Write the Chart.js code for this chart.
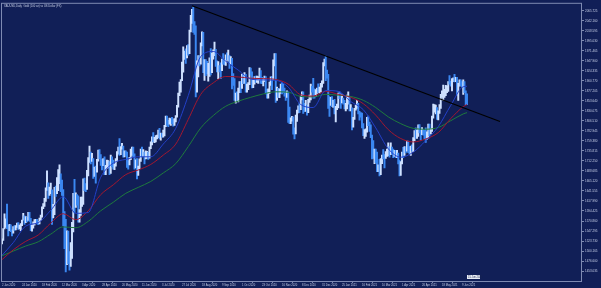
<!DOCTYPE html>
<html>
<head>
<meta charset="utf-8">
<title>XAUUSD Daily</title>
<script src="https://cdn.jsdelivr.net/npm/chart.js@4.4.0/dist/chart.umd.min.js"></script>
<style>
  html, body { margin: 0; padding: 0; background: #111f57; }
  canvas { display: block; }
</style>
</head>
<body>
<canvas id="goldChart" width="601" height="288"></canvas>
<script>
var chartTitle = 'XAUUSD,Daily  Gold (100 oz) vs US Dollar (FX)';

// daily bars, 2 Jan 2020 .. 15 Jun 2021
var highs = [
  1529,1553,1588,1576,1611,1561,1563,1562,1550,1558,1560,1560,1566,1567,1561,1565,1573,1589,1583,1581,1580,1591, // jan 20
  1591,1577,1561,1569,1574,1575,1575,1570,1578,1585,1604,1612,1624,1649,1689,1661,1651,1660,1644, // feb
  1610,1650,1653,1673,1692,1703,1682,1667,1645,1593,1575,1548,1547,1499,1520,1568,1636,1669,1637,1633,1630, // mar
  1598,1627,1627,1670,1672,1659,1690,1720,1747,1733,1730,1718,1698,1700,1716,1738,1739,1727,1716,1718,1722, // apr
  1702,1714,1713,1711,1726,1722,1714,1705,1718,1734,1745,1765,1746,1754,1747,1736,1736,1733,1713,1721,1740, // may
  1745,1745,1729,1715,1718,1700,1717,1740,1745,1739,1733,1736,1735,1733,1745,1757,1769,1779,1768,1772,1773,1785, // jun
  1789,1778,1777,1785,1796,1818,1818,1808,1813,1812,1815,1811,1812,1819,1843,1872,1898,1904,1945,1981,1971,1976,1984, // jul
  1986,2020,2055,2069,2075,2040,2030,1948,1960,1960,1990,2016,2015,1951,1951,1947,1942,1955,1977,1966,1974, // aug
  1992,1975,1948,1946,1937,1943,1952,1965,1951,1962,1967,1973,1960,1958,1954,1918,1906,1872,1875,1884,1899,1899, // sep
  1917,1916,1920,1916,1893,1897,1932,1931,1922,1902,1911,1912,1912,1911,1931,1925,1909,1906,1912,1911,1881,1882, // oct
  1898,1910,1911,1950,1965,1965,1886,1883,1882,1893,1897,1893,1884,1875,1877,1875,1839,1814,1817,1816,1790, // nov
  1820,1832,1842,1848,1865,1875,1875,1848,1855,1844,1857,1867,1893,1888,1907,1882,1880,1884,1894,1886,1895,1901, // dec
  1944,1952,1959,1926,1916,1864,1862,1864,1855,1857,1841,1846,1872,1875,1871,1868,1860,1855,1848,1867, // jan 21
  1875,1864,1845,1837,1815,1836,1844,1855,1848,1829,1826,1825,1800,1786,1788,1815,1818,1804,1797,1773, // feb
  1760,1740,1740,1733,1703,1716,1718,1726,1739,1727,1734,1740,1755,1746,1755,1745,1740,1737,1737,1737,1731,1714,1711, // mar
  1733,1744,1746,1745,1759,1759,1746,1747,1750,1767,1784,1790,1785,1797,1798,1785,1791,1786,1785,1790,1781, // apr
  1799,1799,1788,1818,1846,1845,1844,1838,1830,1845,1869,1877,1891,1881,1890,1889,1899,1913,1900,1906,1908, // may
  1916,1909,1909,1895,1903,1903,1899,1903,1899,1877,1870 // jun
];
var lows = [
  1517,1525,1552,1556,1553,1536,1548,1546,1536,1542,1549,1550,1556,1551,1552,1548,1560,1573,1563,1567,1569,1572,
  1570,1548,1547,1554,1561,1567,1564,1562,1564,1573,1580,1600,1605,1617,1643,1624,1631,1635,1563,
  1578,1586,1629,1635,1642,1659,1640,1631,1560,1506,1451,1468,1470,1455,1464,1483,1545,1590,1603,1608,1568,
  1568,1584,1605,1610,1642,1640,1645,1677,1709,1705,1711,1671,1676,1660,1686,1712,1717,1702,1691,1701,1680,
  1680,1695,1696,1680,1683,1698,1693,1692,1700,1712,1728,1725,1727,1740,1721,1722,1724,1697,1693,1703,1715,
  1725,1721,1693,1696,1670,1678,1694,1711,1722,1723,1705,1717,1718,1716,1719,1741,1750,1757,1755,1757,1764,1767,
  1764,1761,1768,1768,1771,1793,1796,1793,1799,1796,1800,1794,1796,1804,1815,1839,1866,1874,1901,1921,1951,1942,1955,
  1961,1965,2016,2036,2015,2010,1863,1874,1910,1936,1940,1983,1920,1902,1913,1917,1900,1911,1915,1920,1952,
  1960,1935,1922,1906,1922,1906,1925,1940,1938,1937,1950,1947,1930,1939,1882,1890,1855,1848,1855,1851,1873,1873,
  1883,1894,1895,1874,1874,1880,1892,1914,1884,1885,1893,1897,1897,1895,1903,1895,1894,1889,1899,1870,1860,1860,
  1871,1890,1880,1903,1936,1850,1855,1862,1861,1871,1870,1873,1865,1855,1862,1803,1800,1800,1806,1775,1764,
  1776,1805,1825,1826,1833,1856,1824,1828,1829,1820,1826,1850,1856,1874,1860,1860,1864,1871,1873,1872,1875,1886,
  1895,1936,1901,1907,1836,1817,1843,1840,1838,1823,1804,1833,1837,1859,1836,1849,1846,1835,1830,1835,
  1846,1830,1830,1785,1792,1810,1832,1836,1823,1808,1815,1790,1772,1765,1770,1780,1795,1782,1767,1717,
  1718,1706,1708,1687,1687,1677,1680,1706,1717,1696,1718,1723,1724,1721,1727,1728,1720,1723,1720,1720,1705,1677,1678,
  1705,1720,1725,1731,1735,1732,1729,1725,1735,1734,1760,1766,1765,1770,1778,1761,1774,1773,1764,1756,1763,
  1766,1771,1776,1782,1813,1827,1823,1810,1809,1824,1836,1862,1855,1862,1866,1873,1876,1893,1888,1877,1899,
  1898,1899,1867,1855,1888,1889,1886,1869,1873,1845,1845
];
var closes = [
  1528,1552,1566,1574,1556,1552,1562,1548,1545,1557,1552,1557,1560,1558,1558,1563,1571,1582,1567,1577,1575,1589,
  1577,1553,1556,1566,1571,1573,1567,1566,1576,1584,1602,1612,1620,1643,1659,1636,1641,1643,1585,
  1593,1641,1636,1669,1674,1679,1649,1634,1576,1529,1514,1525,1477,1470,1498,1553,1632,1612,1629,1617,1577,
  1591,1614,1620,1663,1648,1645,1683,1713,1726,1716,1718,1683,1695,1686,1714,1730,1726,1713,1706,1713,1687,
  1700,1702,1705,1685,1725,1702,1697,1701,1715,1730,1743,1733,1745,1747,1727,1735,1729,1710,1708,1719,1730,
  1740,1726,1699,1713,1684,1697,1714,1738,1728,1729,1726,1727,1727,1723,1743,1755,1768,1762,1763,1770,1772,1781,
  1769,1775,1773,1783,1794,1810,1802,1798,1802,1810,1808,1796,1810,1817,1842,1871,1889,1901,1941,1958,1970,1958,1975,
  1969,2019,2038,2063,2035,2028,1912,1915,1953,1944,1986,2013,1929,1946,1940,1929,1929,1954,1929,1964,1968,
  1970,1944,1931,1933,1932,1930,1947,1946,1940,1956,1954,1960,1943,1950,1912,1900,1863,1868,1861,1881,1898,1886,
  1906,1900,1913,1877,1887,1894,1930,1922,1891,1901,1908,1899,1905,1907,1924,1904,1902,1902,1908,1878,1868,1879,
  1894,1908,1903,1948,1951,1862,1877,1866,1873,1889,1888,1880,1871,1866,1872,1837,1807,1810,1812,1788,1777,
  1815,1831,1841,1839,1862,1872,1838,1837,1839,1828,1855,1863,1885,1881,1880,1871,1876,1877,1876,1877,1893,1895,
  1943,1950,1918,1913,1849,1844,1856,1846,1851,1828,1839,1840,1871,1866,1856,1856,1850,1843,1843,1848,
  1860,1834,1835,1794,1813,1833,1838,1843,1826,1824,1818,1794,1775,1775,1784,1808,1806,1797,1769,1733,
  1724,1737,1711,1698,1700,1683,1716,1726,1722,1719,1731,1731,1745,1736,1745,1738,1725,1733,1725,1731,1711,1684,1708,
  1729,1728,1744,1737,1756,1744,1733,1744,1736,1764,1777,1771,1779,1794,1783,1777,1780,1778,1773,1769,1769,
  1792,1777,1785,1815,1831,1836,1836,1815,1826,1843,1867,1869,1871,1877,1881,1881,1898,1897,1896,1903,1905,
  1903,1903,1871,1891,1899,1893,1888,1899,1877,1866,1858
];

// time scale labels, one every 16 bars
var timeLabels = ['2 Jan 2020','24 Jan 2020','18 Feb 2020','12 Mar 2020','3 Apr 2020','28 Apr 2020',
  '20 May 2020','11 Jun 2020','3 Jul 2020','27 Jul 2020','18 Aug 2020','9 Sep 2020','1 Oct 2020',
  '23 Oct 2020','16 Nov 2020','8 Dec 2020','31 Dec 2020','25 Jan 2021','16 Feb 2021','10 Mar 2021',
  '1 Apr 2021','26 Apr 2021','18 May 2021','9 Jun 2021'];
var labelStep = 16;

var priceTicks = [2065.725,2042.160,2018.595,1995.030,1971.465,1947.900,1924.335,1900.770,1877.205,
  1853.640,1830.075,1806.510,1782.945,1759.380,1735.815,1712.250,1688.685,1665.120,1641.555,1617.990,
  1594.425,1570.860,1547.295,1523.730,1500.165,1476.600,1453.035];

// moving averages read at every 10th bar
var maIndex = [0,9,19,29,39,49,59,69,79,89,99,109,119,129,139,149,159,169,179,189,199,209,219,229,239,
  249,259,269,279,289,299,309,319,329,339,349,359,369,372];
var maFast = [1490,1520,1559,1567,1596,1628,1589,1591,1674,1707,1716,1722,1722,1752,1789,1866,1958,1970,1947,
  1926,1905,1903,1902,1886,1845,1838,1878,1876,1852,1833,1790,1741,1721,1733,1760,1793,1843,1887,1888];
var maMid = [1480,1503,1523,1538,1566,1588,1574,1595,1633,1656,1680,1691,1704,1726,1752,1810,1869,1896,1911,
  1910,1907,1906,1904,1893,1868,1865,1876,1869,1862,1847,1820,1786,1765,1757,1764,1779,1812,1840,1845];
var maSlow = [1489,1500,1512,1522,1540,1557,1555,1570,1595,1615,1636,1650,1664,1684,1706,1746,1790,1819,1841,
  1853,1862,1870,1875,1874,1864,1863,1869,1867,1864,1855,1838,1816,1800,1789,1787,1791,1807,1823,1826];

// trend line from the August high
var trendX = [152, 398.4];
var trendY = [2077.5, 1805.2];

var lastBarTime = '15 Jun 2021';

var upColor = '#cfe1ff';
var downColor = '#3b88f2';
var axisText = '#c6cee6';
var frameColor = '#7e8ab2';

var wicks = [];
var barColors = [];
for (var i = 0; i < highs.length; i++) {
    wicks.push({ x: i, y: [lows[i], highs[i]] });
    var prev = i > 0 ? closes[i - 1] : lows[i];
    barColors.push(closes[i] >= prev ? upColor : downColor);
}

function maPoints(values) {
    return maIndex.map(function (x, k) { return { x: x, y: values[k] }; });
}

var mtFrame = {
    id: 'mtFrame',
    beforeDraw: function (chart) {
        var c = chart.ctx;
        c.save();
        c.fillStyle = '#111f57';
        c.fillRect(0, 0, chart.width, chart.height);
        c.restore();
    },
    afterDraw: function (chart) {
        var a = chart.chartArea, c = chart.ctx;
        c.save();
        c.strokeStyle = frameColor;
        c.lineWidth = 1;
        c.strokeRect(a.left + 0.5, a.top + 0.5, a.right - a.left - 1, a.bottom - a.top);
        c.fillStyle = axisText;
        c.font = '2.7px "Liberation Sans"';
        c.textBaseline = 'top';
        c.fillText(chartTitle, a.left + 3, a.top + 2);

        // marker of the last bar on the time scale
        var px = chart.scales.x.getPixelForValue(highs.length - 1);
        c.fillStyle = '#e8ecf5';
        c.fillRect(px, a.bottom - 6, 13, 4);
        c.fillStyle = '#1a2550';
        c.font = '2.6px "Liberation Sans"';
        c.textBaseline = 'middle';
        c.fillText(lastBarTime, px + 1, a.bottom - 4);
        c.restore();
    }
};

var ctx = document.getElementById('goldChart').getContext('2d');
var goldChart = new Chart(ctx, {
    type: 'bar',
    data: {
        datasets: [{
            type: 'line',
            data: [{ x: trendX[0], y: trendY[0] }, { x: trendX[1], y: trendY[1] }],
            borderColor: '#000000',
            borderWidth: 1.2,
            pointRadius: 0,
            order: 0
        }, {
            type: 'line',
            data: maPoints(maFast),
            borderColor: '#2340c8',
            borderWidth: 1,
            pointRadius: 0,
            cubicInterpolationMode: 'monotone',
            order: 1
        }, {
            type: 'line',
            data: maPoints(maMid),
            borderColor: '#a3172f',
            borderWidth: 1,
            pointRadius: 0,
            cubicInterpolationMode: 'monotone',
            order: 2
        }, {
            type: 'line',
            data: maPoints(maSlow),
            borderColor: '#1e7a3d',
            borderWidth: 1,
            pointRadius: 0,
            cubicInterpolationMode: 'monotone',
            order: 3
        }, {
            type: 'bar',
            data: wicks,
            backgroundColor: barColors,
            borderWidth: 0,
            barThickness: 1.3,
            grouped: false,
            order: 5
        }]
    },
    options: {
        responsive: false,
        devicePixelRatio: 1,
        animation: false,
        events: [],
        layout: { padding: { top: 2, left: 1, right: 0, bottom: 0 } },
        plugins: {
            legend: { display: false },
            tooltip: { enabled: false }
        },
        scales: {
            x: {
                type: 'linear',
                min: -0.8,
                max: 464,
                offset: false,
                bounds: 'data',
                border: { display: false },
                grid: { drawOnChartArea: false, drawTicks: true, tickLength: 2, color: frameColor },
                afterBuildTicks: function (scale) {
                    scale.ticks = timeLabels.map(function (t, k) { return { value: k * labelStep }; });
                },
                afterFit: function (scale) { scale.height = 7; },
                ticks: {
                    autoSkip: false,
                    maxRotation: 0,
                    align: 'start',
                    padding: 0.5,
                    color: axisText,
                    font: { family: 'Liberation Sans', size: 2.7 },
                    callback: function (value, index) { return timeLabels[index]; }
                }
            },
            y: {
                type: 'linear',
                position: 'right',
                min: 1429.65,
                max: 2084.5,
                bounds: 'data',
                border: { display: false },
                grid: { drawOnChartArea: false, drawTicks: true, tickLength: 2, color: frameColor },
                afterBuildTicks: function (scale) {
                    scale.ticks = priceTicks.map(function (v) { return { value: v }; });
                },
                afterFit: function (scale) { scale.width = 19; },
                ticks: {
                    autoSkip: false,
                    padding: 1,
                    color: axisText,
                    font: { family: 'Liberation Sans', size: 3 },
                    callback: function (value) { return value.toFixed(3); }
                }
            }
        }
    },
    plugins: [mtFrame]
});
</script>
</body>
</html>
